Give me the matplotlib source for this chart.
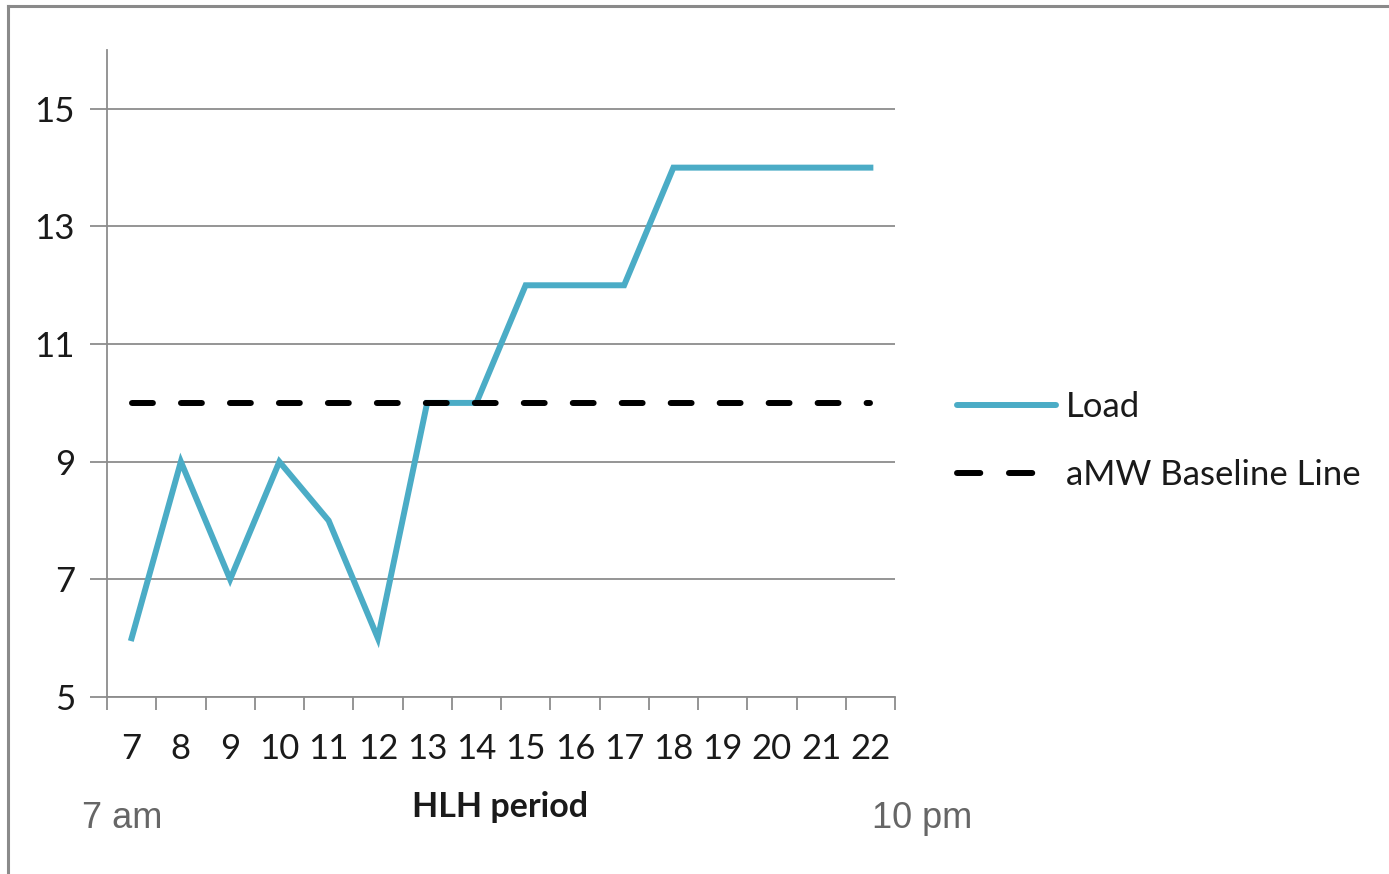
import matplotlib
matplotlib.use("Agg")
import matplotlib.pyplot as plt
from matplotlib.lines import Line2D
import numpy as np

hours = [7, 8, 9, 10, 11, 12, 13, 14, 15, 16, 17, 18, 19, 20, 21, 22]
load = [6, 9, 7, 9, 8, 6, 10, 10, 12, 12, 12, 14, 14, 14, 14, 14]
baseline = [10] * 16
y_ticks = [5, 7, 9, 11, 13, 15]

W, H = 1389, 874
fig = plt.figure(figsize=(W / 100, H / 100), dpi=100)
fig.patch.set_facecolor("white")

ax = fig.add_axes([107 / W, 1 - 697 / H, (895 - 107) / W, (697 - 50) / H])
x = np.arange(len(hours))

grid_c = "#8c8c8c"
ax.set_xlim(-0.5, len(hours) - 0.5)
ax.set_ylim(5, 16)
ax.set_yticks(y_ticks)
ax.yaxis.grid(True, color=grid_c, linewidth=1.3)
ax.set_axisbelow(True)

for s in ["top", "right"]:
    ax.spines[s].set_visible(False)
for s in ["left", "bottom"]:
    ax.spines[s].set_color(grid_c)
    ax.spines[s].set_linewidth(1.3)

fnt = "Lato"
fs = 25
ax.set_xticks(x)
ax.set_xticklabels([str(h) for h in hours], fontsize=fs, family=fnt, color="#1a1a1a")
ax.tick_params(axis="x", which="major", length=0, pad=26)
ax.set_xticks(np.arange(-0.5, len(hours), 1.0), minor=True)
ax.tick_params(axis="x", which="minor", length=9, width=1.3, color=grid_c)
ax.set_yticklabels([str(v) for v in y_ticks], fontsize=fs, family=fnt, color="#1a1a1a")
ax.tick_params(axis="y", length=12, width=1.3, color=grid_c, pad=11)

blue = "#4BACC6"
lw = 4.3
ax.plot(x, load, color=blue, linewidth=lw, solid_joinstyle="miter", label="Load")
ax.plot(x, baseline, color="black", linewidth=lw, dashes=(3.5, 4.7),
        dash_capstyle="round", label="aMW Baseline Line")

h_load = Line2D([], [], color=blue, linewidth=lw, solid_capstyle="round")
h_base = Line2D([], [], color="black", linewidth=lw, dashes=(3.9, 4.8),
                dash_capstyle="round")
leg = fig.legend([h_load, h_base], ["Load", "aMW Baseline Line"],
                 loc="center left", bbox_to_anchor=(943 / W, 1 - 441 / H),
                 frameon=False, prop={"family": fnt, "size": fs},
                 handlelength=2.85, handletextpad=0.3, labelspacing=1.02,
                 borderaxespad=0)
for t in leg.get_texts():
    t.set_color("#1a1a1a")

fig.text(122 / W, 1 - 818 / H, "7 am", ha="center", va="center",
         fontsize=26, family="Liberation Sans", color="#666666")
fig.text(500 / W, 1 - 807 / H, "HLH period", ha="center", va="center",
         fontsize=24.5, family=fnt, fontweight="bold", color="#1a1a1a")
fig.text(922 / W, 1 - 818 / H, "10 pm", ha="center", va="center",
         fontsize=26, family="Liberation Sans", color="#666666")

# outer frame (top and left edges)
fig.add_artist(Line2D([8 / W, 8 / W], [0, 1 - 6 / H], transform=fig.transFigure,
                      color="#8a8a8a", linewidth=2.2))
fig.add_artist(Line2D([8 / W, 1], [1 - 6 / H, 1 - 6 / H], transform=fig.transFigure,
                      color="#8a8a8a", linewidth=2.2))

fig.savefig("out.png", dpi=100)
